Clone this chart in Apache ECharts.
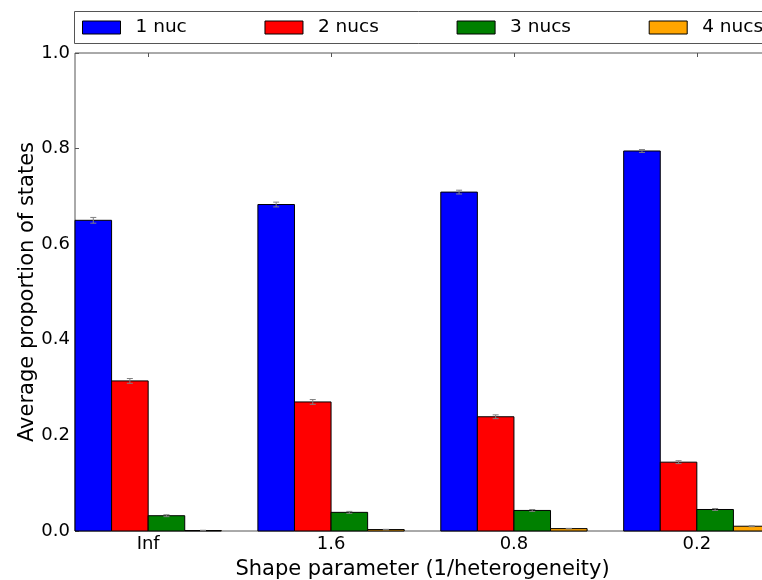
<!DOCTYPE html>
<html>
<head>
<meta charset="utf-8">
<script src="https://cdn.jsdelivr.net/npm/echarts@6/dist/echarts.min.js"></script>
<style>html,body{margin:0;padding:0;background:#fff;}#chart{width:762px;height:580px;}</style>
</head>
<body>
<div id="chart"></div>
<script>
const categories = ['Inf', '1.6', '0.8', '0.2'];
const seriesNames = ['1 nuc', '2 nucs', '3 nucs', '4 nucs'];
const oneNuc = [0.650, 0.683, 0.709, 0.795];
const twoNucs = [0.314, 0.270, 0.239, 0.144];
const threeNucs = [0.032, 0.039, 0.043, 0.045];
const fourNucs = [0.001, 0.003, 0.005, 0.010];
const oneNucErr = [0.006, 0.005, 0.004, 0.003];
const twoNucsErr = [0.005, 0.005, 0.004, 0.003];
const threeNucsErr = [0.002, 0.002, 0.002, 0.002];
const fourNucsErr = [0.0005, 0.0005, 0.0005, 0.001];
const yTicks = [0, 0.2, 0.4, 0.6, 0.8, 1.0];

const values = [oneNuc, twoNucs, threeNucs, fourNucs];
const errs = [oneNucErr, twoNucsErr, threeNucsErr, fourNucsErr];
const colors = ['#0000ff', '#ff0000', '#008000', '#ffa500'];
const barW = 0.2;
const FONT = 'DejaVu Sans';
const frameColor = '#555';

function makeRender(s) {
  const offset = -0.3 + barW * s;
  return function (params, api) {
    const xc = api.value(0) + offset;
    const y = api.value(1);
    const e = api.value(2);
    const pTL = api.coord([xc - barW / 2, y]);
    const pBR = api.coord([xc + barW / 2, 0]);
    const pHi = api.coord([xc, y + e]);
    const pLo = api.coord([xc, y - e]);
    const cap = 3;
    return {
      type: 'group',
      children: [
        { type: 'rect', shape: { x: pTL[0], y: pTL[1], width: pBR[0] - pTL[0], height: pBR[1] - pTL[1] },
          style: { fill: colors[s], stroke: '#000', lineWidth: 1 } },
        { type: 'line', shape: { x1: pHi[0], y1: pHi[1], x2: pLo[0], y2: pLo[1] }, style: { stroke: '#808080', lineWidth: 1 } },
        { type: 'line', shape: { x1: pHi[0] - cap, y1: pHi[1], x2: pHi[0] + cap, y2: pHi[1] }, style: { stroke: '#808080', lineWidth: 1 } },
        { type: 'line', shape: { x1: pLo[0] - cap, y1: pLo[1], x2: pLo[0] + cap, y2: pLo[1] }, style: { stroke: '#808080', lineWidth: 1 } }
      ]
    };
  };
}

const series = seriesNames.map((name, s) => ({
  name: name,
  type: 'custom',
  xAxisIndex: 0,
  yAxisIndex: 0,
  clip: false,
  itemStyle: { color: colors[s], borderColor: '#000', borderWidth: 1 },
  encode: { x: 0, y: 1 },
  data: categories.map((c, i) => [i, values[s][i], errs[s][i]]),
  renderItem: makeRender(s)
}));

const chart = echarts.init(document.getElementById('chart'), null, { renderer: 'canvas' });
chart.setOption({
  animation: false,
  backgroundColor: '#fff',
  textStyle: { fontFamily: FONT },
  graphic: [{
    type: 'rect', z: 0,
    shape: { x: 74.5, y: 11.5, width: 800, height: 32 },
    style: { fill: '#fff', stroke: frameColor, lineWidth: 1 }
  }],
  legend: {
    left: 82, top: 18, padding: 0, itemGap: 77.7, width: 1000, orient: 'horizontal',
    itemWidth: 38, itemHeight: 13, icon: 'rect',
    itemStyle: { borderColor: '#000', borderWidth: 1 },
    textStyle: { fontFamily: FONT, fontSize: 18.5, color: '#000', padding: [0, 0, 0, 10] },
    data: seriesNames
  },
  grid: { left: 75, top: 53, width: 695, height: 478, outerBoundsMode: 'none', containLabel: false,
    show: true, borderColor: frameColor, borderWidth: 1, backgroundColor: 'transparent' },
  xAxis: [{
    type: 'value', min: -0.4, max: 3.4, position: 'bottom',
    name: 'Shape parameter (1/heterogeneity)', nameLocation: 'middle', nameGap: 28, nameMoveOverlap: false,
    nameTextStyle: { fontFamily: FONT, fontSize: 21, color: '#000' },
    axisLine: { show: false, onZero: false },
    splitLine: { show: false },
    axisTick: { show: true, inside: true, length: 4, lineStyle: { color: frameColor }, customValues: [0, 1, 2, 3] },
    axisLabel: { fontFamily: FONT, fontSize: 18, color: '#000', margin: 4, customValues: [0, 1, 2, 3],
      formatter: v => categories[Math.round(v)] }
  }, {
    type: 'value', min: -0.4, max: 3.4, position: 'top',
    axisLine: { show: false, onZero: false }, splitLine: { show: false },
    axisTick: { show: true, inside: true, length: 4, lineStyle: { color: frameColor }, customValues: [0, 1, 2, 3] },
    axisLabel: { show: false }
  }],
  yAxis: {
    type: 'value', min: 0, max: 1, interval: 0.2, position: 'left',
    name: 'Average proportion of states', nameLocation: 'middle', nameGap: 37, nameMoveOverlap: false,
    nameTextStyle: { fontFamily: FONT, fontSize: 21, color: '#000' },
    axisLine: { show: false, onZero: false }, splitLine: { show: false },
    axisTick: { show: true, inside: true, length: 4, lineStyle: { color: frameColor } },
    axisLabel: { fontFamily: FONT, fontSize: 18, color: '#000', margin: 5, formatter: v => v.toFixed(1) }
  },
  series: series
});
</script>
</body>
</html>
